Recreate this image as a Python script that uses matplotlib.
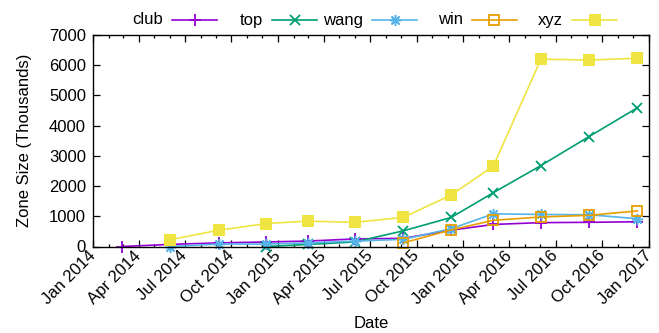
import datetime as dt

import matplotlib
matplotlib.use("Agg")
import matplotlib.pyplot as plt
import matplotlib.dates as mdates
from matplotlib.lines import Line2D

plt.rcParams['font.family'] = ['Liberation Sans', 'DejaVu Sans']
FS = 12

# sample dates (roughly quarterly)
dates = [dt.date(2014, 2, 28), dt.date(2014, 6, 2), dt.date(2014, 9, 6),
         dt.date(2014, 12, 9), dt.date(2015, 2, 28), dt.date(2015, 6, 1),
         dt.date(2015, 9, 5), dt.date(2015, 12, 8), dt.date(2016, 2, 29),
         dt.date(2016, 6, 2), dt.date(2016, 9, 5), dt.date(2016, 12, 9)]

# zone sizes in thousands; shorter series start later and run to the last date
club = [0, 70, 120, 150, 180, 250, 270, 540, 730, 790, 800, 820]
top = [0, 67, 150, 520, 960, 1780, 2680, 3640, 4590]
wang = [0, 80, 80, 120, 177, 240, 590, 1080, 1060, 1050, 920]
win = [123, 550, 867, 977, 1033, 1177]
xyz = [223, 540, 760, 840, 800, 965, 1705, 2657, 6200, 6170, 6230]

names = ['club', 'top', 'wang', 'win', 'xyz']
colors = ['#9400d3', '#009e73', '#56b4e9', '#e69f00', '#f0e442']
series = [club, top, wang, win, xyz]
styles = [dict(marker='+', ms=8, mew=1.3),
          dict(marker='x', ms=7, mew=1.3),
          dict(marker=(8, 2, 0), ms=8, mew=1.1),
          dict(marker='s', ms=7.3, mfc='none', mew=1.3),
          dict(marker='s', ms=8, mew=0)]

fig = plt.figure(figsize=(6.59, 3.33), dpi=100)
ax = fig.add_axes([93 / 659, 1 - 246.5 / 333, 556 / 659, 211.5 / 333])

for vals, c, st in zip(series, colors, styles):
    ax.plot(dates[-len(vals):], vals, color=c, lw=1.2, clip_on=False, **st)

ax.set_xlim(dt.date(2014, 1, 1), dt.date(2017, 1, 1))
ax.set_ylim(0, 7000)
ax.set_yticks(range(0, 7001, 1000))
ax.xaxis.set_major_locator(mdates.MonthLocator(bymonth=[1, 4, 7, 10]))
ax.xaxis.set_minor_locator(mdates.MonthLocator())
ax.xaxis.set_major_formatter(mdates.DateFormatter('%b %Y'))

ax.tick_params(which='both', direction='in', top=True, right=True,
               labelsize=FS, width=0.9, color='black')
ax.tick_params(which='major', length=5, pad=5)
ax.tick_params(which='minor', length=2.5)
for lab in ax.get_xticklabels():
    lab.set_rotation(45)
    lab.set_ha('right')
    lab.set_va('center')
    lab.set_rotation_mode('anchor')
for sp in ax.spines.values():
    sp.set_linewidth(1.0)

ax.set_xlabel('Date', fontsize=FS, labelpad=6)
ax.set_ylabel('Zone Size (Thousands)', fontsize=FS, labelpad=12)

# key across the top, text to the left of each line sample
for i, (name, c, st) in enumerate(zip(names, colors, styles)):
    x0 = (172 + 100 * i) / 659
    x1 = (217 + 100 * i) / 659
    y = 1 - 20 / 333
    fig.add_artist(Line2D([x0, x1], [y, y], color=c, lw=1.2,
                          transform=fig.transFigure))
    fig.add_artist(Line2D([(x0 + x1) / 2], [y], color=c, lw=0,
                          transform=fig.transFigure, **st))
    fig.text(x0 - 9 / 659, y, name, ha='right', va='center', fontsize=FS)

fig.savefig('out.png', dpi=100)
